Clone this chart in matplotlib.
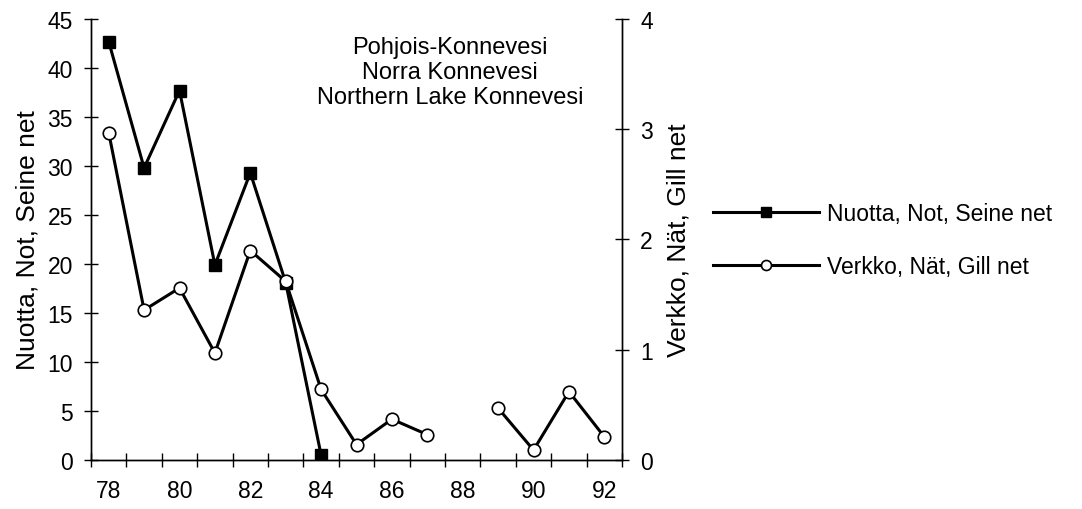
import numpy as np
import matplotlib
matplotlib.use("Agg")
import matplotlib.pyplot as plt

plt.rcParams["font.family"] = ["Liberation Sans", "DejaVu Sans"]

# Data
years_seine = [78, 79, 80, 81, 82, 83, 84]
seine = [42.7, 29.8, 37.7, 19.9, 29.3, 18.1, 0.5]

years_gill = [78, 79, 80, 81, 82, 83, 84, 85, 86, 87, 88, 89, 90, 91, 92]
gill = [2.97, 1.36, 1.56, 0.97, 1.90, 1.62, 0.64, 0.14, 0.37, 0.23, np.nan, 0.47, 0.09, 0.62, 0.21]

xtick_labels = [78, 80, 82, 84, 86, 88, 90, 92]

fig = plt.figure(figsize=(10.82, 5.10), dpi=100)
ax = fig.add_axes([0.0841, 0.0961, 0.4908, 0.8647])
ax2 = ax.twinx()

l1, = ax.plot(years_seine, seine, color="black", lw=2.2, marker="s", ms=8.5,
              mfc="black", mec="black", zorder=4)
l2, = ax2.plot(years_gill, gill, color="black", lw=2.2, marker="o", ms=9,
               mfc="white", mec="black", mew=1.2, zorder=5)

ax.set_xlim(77.5, 92.5)
ax.set_ylim(0, 45)
ax2.set_ylim(0, 4)
ax.set_yticks(np.arange(0, 46, 5))
ax2.set_yticks(np.arange(0, 5, 1))

# category axis: tick marks between years, labels centred on years
ax.set_xticks(np.arange(77.5, 93, 1))
ax.set_xticklabels([])
ax.set_xticks(xtick_labels, minor=True)
ax.set_xticklabels([str(v) for v in xtick_labels], minor=True)
ax.tick_params(axis="x", which="minor", length=0, labelsize=16.5, pad=14)
ax.tick_params(axis="x", which="major", direction="inout", length=10, width=1)
ax.tick_params(axis="y", direction="inout", length=10, width=1, labelsize=16.5, pad=8)
ax2.tick_params(axis="y", direction="inout", length=10, width=1, labelsize=16.5, pad=8)

for a in (ax, ax2):
    a.spines["top"].set_visible(False)
    for s in ("left", "right", "bottom"):
        a.spines[s].set_linewidth(1.0)

ax.set_ylabel("Nuotta, Not, Seine net", fontsize=19, labelpad=6)
ax2.set_ylabel("Verkko, Nät, Gill net", fontsize=19, labelpad=10)

ax.text(0.676, 0.88, "Pohjois-Konnevesi\nNorra Konnevesi\nNorthern Lake Konnevesi",
        transform=ax.transAxes, ha="center", va="center", fontsize=17,
        linespacing=1.2)

fig.legend([l1, l2], ["Nuotta, Not, Seine net", "Verkko, Nät, Gill net"],
           loc="center left", bbox_to_anchor=(0.64, 0.527), frameon=False,
           fontsize=16.5, handlelength=4.6, labelspacing=1.3, handletextpad=0.35,
           markerscale=0.8)

fig.savefig("out.png", dpi=100)
